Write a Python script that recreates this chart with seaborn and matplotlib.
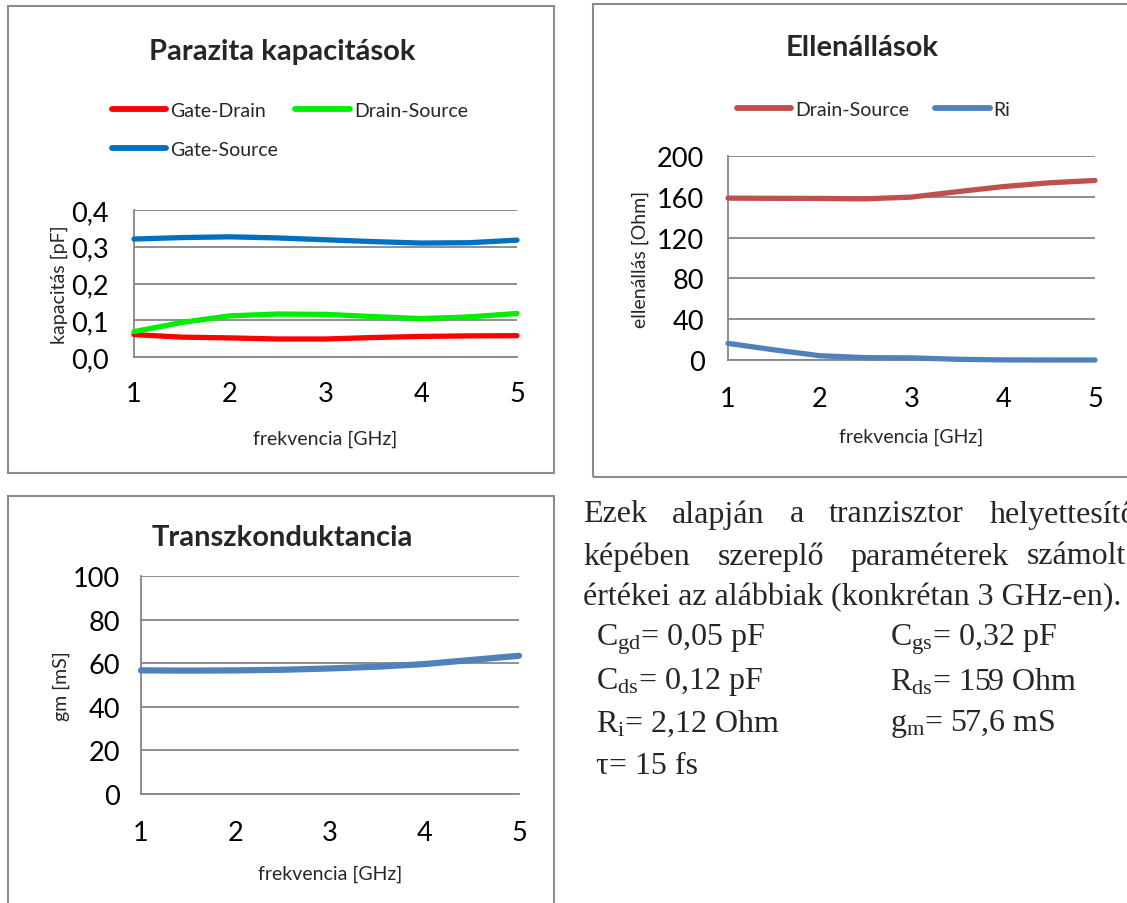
import matplotlib
matplotlib.use("Agg")
import matplotlib.pyplot as plt
import seaborn as sns
import pandas as pd
from matplotlib.patches import Rectangle
from matplotlib.lines import Line2D

# ---------------- data ----------------
freq = [1.0, 1.5, 2.0, 2.5, 3.0, 3.5, 4.0, 4.5, 5.0]

cap_gate_drain = [0.061, 0.054, 0.052, 0.049, 0.049, 0.053, 0.056, 0.0575, 0.058]
cap_drain_source = [0.069, 0.094, 0.112, 0.117, 0.116, 0.110, 0.1045, 0.109, 0.1185]
cap_gate_source = [0.321, 0.325, 0.327, 0.324, 0.319, 0.314, 0.310, 0.311, 0.318]

res_drain_source = [158.7, 158.5, 158.4, 158.0, 159.7, 165.0, 170.0, 173.7, 176.0]
res_ri = [16.3, 10.0, 4.2, 2.3, 2.1, 0.7, 0.1, 0.0, 0.0]

gm_vals = [56.7, 56.6, 56.7, 57.0, 57.6, 58.4, 59.6, 61.5, 63.4]

x_ticks = [1, 2, 3, 4, 5]
cap_ticks = [0.0, 0.1, 0.2, 0.3, 0.4]
cap_tick_labels = ["0,0", "0,1", "0,2", "0,3", "0,4"]
res_ticks = [0, 40, 80, 120, 160, 200]
gm_ticks = [0, 20, 40, 60, 80, 100]

# ---------------- style ----------------
sns.set_style("white")
SANS = ["Lato", "DejaVu Sans"]
SERIF = ["Liberation Serif", "DejaVu Serif"]
plt.rcParams["font.family"] = SANS
plt.rcParams["mathtext.fontset"] = "custom"
plt.rcParams["mathtext.rm"] = "Liberation Serif"
plt.rcParams["mathtext.it"] = "Liberation Serif:italic"

W, H = 1127, 904
fig = plt.figure(figsize=(W / 100, H / 100), dpi=100)
fig.patch.set_facecolor("white")

GRID = "#868686"
TICK_FS = 19.5
LABEL_FS = 14
LEG_FS = 14
TITLE_FS = 21


def px_axes(x0, x1, y_top, y_bot):
    return fig.add_axes([x0 / W, 1 - y_bot / H, (x1 - x0) / W, (y_bot - y_top) / H])


def box(x0, y0, x1, y1):
    fig.patches.append(Rectangle((x0 / W, 1 - y1 / H), (x1 - x0) / W, (y1 - y0) / H,
                                 transform=fig.transFigure, fill=False,
                                 edgecolor="#8c8c8c", linewidth=1.5))


def style_axes(ax, yticks, ylabels, ylim, ylabel, xlabelpad=17, ylabelpad=2,
               ypad=9, xpad=11):
    ax.set_xlim(1, 5)
    ax.set_ylim(*ylim)
    ax.set_xticks(x_ticks)
    ax.set_xticklabels([str(t) for t in x_ticks])
    ax.set_yticks(yticks)
    ax.set_yticklabels(ylabels)
    for s in ["top", "right"]:
        ax.spines[s].set_visible(False)
    for s in ["left", "bottom"]:
        ax.spines[s].set_color(GRID)
        ax.spines[s].set_linewidth(1.3)
    ax.yaxis.grid(True, color=GRID, linewidth=1.3)
    ax.xaxis.grid(False)
    ax.set_axisbelow(True)
    ax.tick_params(axis="both", direction="out", length=6, width=1.3, color=GRID,
                   labelsize=TICK_FS, labelcolor="black")
    ax.tick_params(axis="y", pad=ypad)
    ax.tick_params(axis="x", pad=xpad)
    ax.set_xlabel("frekvencia [GHz]", fontsize=LABEL_FS, labelpad=xlabelpad)
    ax.set_ylabel(ylabel, fontsize=LABEL_FS, labelpad=ylabelpad)
    ax.set_facecolor("none")
    for ln in ax.get_lines():
        ln.set_clip_on(False)


LEG_KW = dict(frameon=False, fontsize=LEG_FS, handlelength=2.8, handletextpad=0.2,
              borderaxespad=0)

# ---------- chart 1 ----------
box(8, 7, 554, 474)
ax1 = px_axes(134, 517, 211, 358)
df1 = pd.DataFrame({
    "freq": freq * 3,
    "val": cap_gate_drain + cap_drain_source + cap_gate_source,
    "series": ["Gate-Drain"] * len(freq) + ["Drain-Source"] * len(freq) + ["Gate-Source"] * len(freq),
})
pal1 = {"Gate-Drain": "#ff0000", "Drain-Source": "#00ee00", "Gate-Source": "#0070c0"}
sns.lineplot(data=df1, x="freq", y="val", hue="series", palette=pal1, ax=ax1,
             linewidth=3.8, legend=False, zorder=3)
style_axes(ax1, cap_ticks, cap_tick_labels, (0, 0.4), "kapacitás [pF]", xlabelpad=17,
           ylabelpad=2, ypad=12)
h1 = [Line2D([], [], color=pal1["Gate-Drain"], lw=4.2, solid_capstyle="round"),
      Line2D([], [], color=pal1["Gate-Source"], lw=4.2, solid_capstyle="round"),
      Line2D([], [], color=pal1["Drain-Source"], lw=4.2, solid_capstyle="round")]
fig.legend(h1, ["Gate-Drain", "Gate-Source", "Drain-Source"], ncol=2,
           loc="upper left", bbox_to_anchor=(104 / W, 1 - 95 / H), labelspacing=1.15,
           columnspacing=0.9, **LEG_KW)
fig.text(282 / W, 1 - 52 / H, "Parazita kapacitások", ha="center", va="center",
         fontsize=TITLE_FS, fontweight="bold")

# ---------- chart 2 ----------
box(593, 5, 1140, 478)
ax2 = px_axes(728, 1095, 157, 361)
df2 = pd.DataFrame({
    "freq": freq * 2,
    "val": res_drain_source + res_ri,
    "series": ["Drain-Source"] * len(freq) + ["Ri"] * len(freq),
})
pal2 = {"Drain-Source": "#c0504d", "Ri": "#4f81bd"}
sns.lineplot(data=df2, x="freq", y="val", hue="series", palette=pal2, ax=ax2,
             linewidth=3.8, legend=False, zorder=3)
style_axes(ax2, res_ticks, [str(t) for t in res_ticks], (0, 200), "ellenállás [Ohm]",
           xlabelpad=12, ylabelpad=6, ypad=11, xpad=13)
h2 = [Line2D([], [], color=pal2["Drain-Source"], lw=4.2, solid_capstyle="round"),
      Line2D([], [], color=pal2["Ri"], lw=4.2, solid_capstyle="round")]
fig.legend(h2, ["Drain-Source", "Ri"], ncol=2, loc="center left",
           bbox_to_anchor=(729 / W, 1 - 110 / H), columnspacing=1.35, **LEG_KW)
fig.text(862 / W, 1 - 48 / H, "Ellenállások", ha="center", va="center",
         fontsize=TITLE_FS, fontweight="bold")

# ---------- chart 3 ----------
box(8, 497, 554, 920)
ax3 = px_axes(141, 519, 577, 795)
df3 = pd.DataFrame({"freq": freq, "val": gm_vals})
sns.lineplot(data=df3, x="freq", y="val", color="#4f81bd", ax=ax3, linewidth=4.5, zorder=3)
style_axes(ax3, gm_ticks, [str(t) for t in gm_ticks], (0, 100), "gm [mS]",
           xlabelpad=14, xpad=13)
fig.text(282 / W, 1 - 538 / H, "Transzkonduktancia", ha="center", va="center",
         fontsize=TITLE_FS, fontweight="bold")

# ---------- text on the right ----------
FS = 23
line1 = [("Ezek", 583), ("alapján", 672), ("a", 790), ("tranzisztor", 829), ("helyettesítő", 990)]
line2 = [("képében", 583), ("szereplő", 718), ("paraméterek", 850), ("számolt", 1027)]
for w, x in line1:
    fig.text(x / W, 1 - 515 / H, w, ha="left", va="center", fontsize=FS, family=SERIF)
for w, x in line2:
    fig.text(x / W, 1 - 557 / H, w, ha="left", va="center", fontsize=FS, family=SERIF)
fig.text(583 / W, 1 - 598 / H, "értékei az alábbiak (konkrétan 3 GHz-en).", ha="left",
         va="center", fontsize=FS, family=SERIF)

params_left = [r"C$_{\mathrm{gd}}$= 0,05 pF", r"C$_{\mathrm{ds}}$= 0,12 pF",
               r"R$_{\mathrm{i}}$= 2,12 Ohm", "τ= 15 fs"]
params_right = [r"C$_{\mathrm{gs}}$= 0,32 pF", r"R$_{\mathrm{ds}}$= 159 Ohm",
                r"g$_{\mathrm{m}}$= 57,6 mS"]
ys = [640, 682, 724, 766]
for t, y in zip(params_left, ys):
    fig.text(596 / W, 1 - y / H, t, ha="left", va="center", fontsize=FS, family=SERIF)
for t, y in zip(params_right, ys):
    fig.text(890 / W, 1 - y / H, t, ha="left", va="center", fontsize=FS, family=SERIF)

fig.savefig("out.png", dpi=100)
